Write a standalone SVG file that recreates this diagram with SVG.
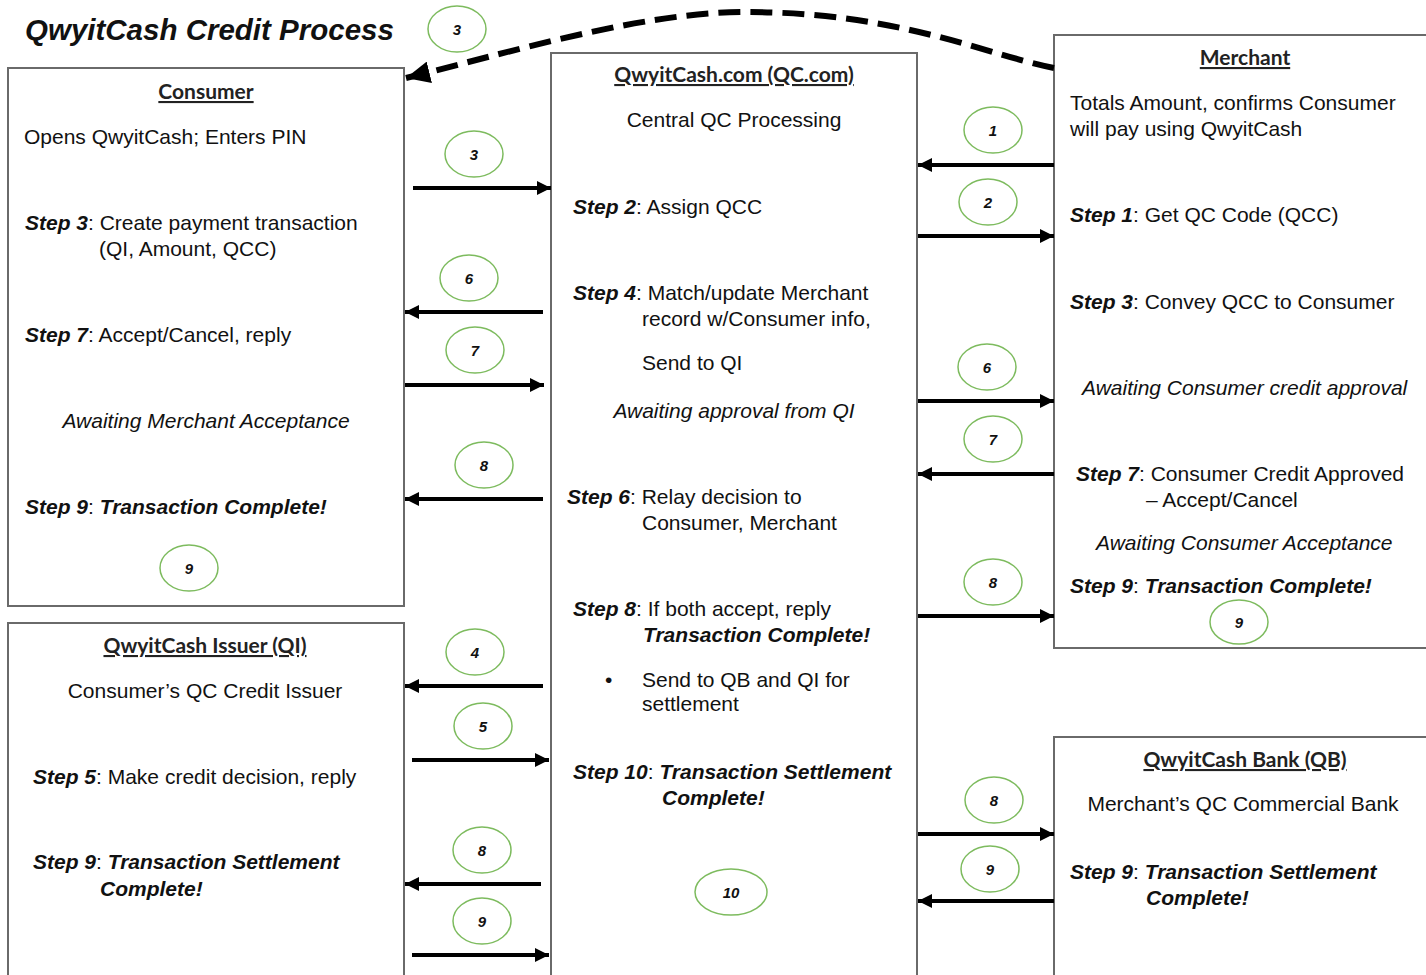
<svg xmlns="http://www.w3.org/2000/svg" width="1426" height="975" viewBox="0 0 1426 975">
<defs>
<style>
.box{fill:#fff;stroke:#6a6a6a;stroke-width:2}
.t{font-family:"Liberation Sans",Arial,sans-serif;font-size:21px;fill:#111}
.c{text-anchor:middle}
.i{font-style:italic}
.b{font-weight:bold;font-style:italic}
.h{font-family:Lato,"Open Sans",sans-serif;font-weight:bold;font-size:21px;fill:#222;text-anchor:middle;text-decoration:underline}
.title{font-family:"Liberation Sans",Arial,sans-serif;font-size:29.5px;font-weight:bold;font-style:italic;fill:#111}
.ov{fill:#fff;stroke:#7dbb5e;stroke-width:1.5}
.n{font-family:"Liberation Sans",Arial,sans-serif;font-size:15px;font-weight:bold;font-style:italic;fill:#111;text-anchor:middle}
.a{stroke:#000;stroke-width:4;fill:none;marker-end:url(#ah)}
</style>
<marker id="ah" markerUnits="userSpaceOnUse" markerWidth="16" markerHeight="14" refX="14" refY="7" orient="auto">
<path d="M0,0 L14,7 L0,14 Z" fill="#000"/>
</marker>
<marker id="ahd" markerUnits="userSpaceOnUse" markerWidth="26" markerHeight="22" refX="24" refY="11" orient="auto">
<path d="M0,0 L24,11 L0,22 Z" fill="#000"/>
</marker>
</defs>
<rect width="1426" height="975" fill="#fff"/>
<text class="title" x="25" y="40">QwyitCash Credit Process</text>

<g id="consumer">
<rect class="box" x="8" y="68" width="396" height="538"/>
<text class="h" x="206" y="99">Consumer</text>
<text class="t" x="24" y="144">Opens QwyitCash; Enters PIN</text>
<text class="t" x="25" y="230"><tspan class="b">Step 3</tspan>: Create payment transaction</text>
<text class="t" x="99" y="256">(QI, Amount, QCC)</text>
<text class="t" x="25" y="342"><tspan class="b">Step 7</tspan>: Accept/Cancel, reply</text>
<text class="t c i" x="206" y="428">Awaiting Merchant Acceptance</text>
<text class="t" x="25" y="514"><tspan class="b">Step 9</tspan>:  <tspan class="b">Transaction Complete!</tspan></text>
<ellipse class="ov" cx="189" cy="568" rx="29" ry="23"/>
<text class="n" x="189" y="574">9</text>
</g>

<g id="issuer">
<rect class="box" x="8" y="623" width="396" height="370"/>
<text class="h" x="205" y="653">QwyitCash Issuer (QI)</text>
<text class="t c" x="205" y="698">Consumer’s QC Credit Issuer</text>
<text class="t" x="33" y="784"><tspan class="b">Step 5</tspan>: Make credit decision, reply</text>
<text class="t" x="33" y="869"><tspan class="b">Step 9</tspan>:  <tspan class="b">Transaction Settlement</tspan></text>
<text class="t b" x="100" y="896">Complete!</text>
</g>

<g id="qccom">
<rect class="box" x="551" y="53" width="366" height="940"/>
<text class="h" x="734" y="82">QwyitCash.com (QC.com)</text>
<text class="t c" x="734" y="127">Central QC Processing</text>
<text class="t" x="573" y="214"><tspan class="b">Step 2</tspan>: Assign QCC</text>
<text class="t" x="573" y="300"><tspan class="b">Step 4</tspan>: Match/update Merchant</text>
<text class="t" x="642" y="326">record w/Consumer info,</text>
<text class="t" x="642" y="370">Send to QI</text>
<text class="t c i" x="734" y="418">Awaiting approval from QI</text>
<text class="t" x="567" y="504"><tspan class="b">Step 6</tspan>: Relay decision to</text>
<text class="t" x="642" y="530">Consumer, Merchant</text>
<text class="t" x="573" y="616"><tspan class="b">Step 8</tspan>: If both accept, reply</text>
<text class="t b" x="643" y="642">Transaction Complete!</text>
<text class="t" x="605" y="687">•</text>
<text class="t" x="642" y="687">Send to QB and QI for</text>
<text class="t" x="642" y="711">settlement</text>
<text class="t" x="573" y="779"><tspan class="b">Step 10</tspan>: <tspan class="b">Transaction Settlement</tspan></text>
<text class="t b" x="662" y="805">Complete!</text>
<ellipse class="ov" cx="731" cy="892" rx="36" ry="23"/>
<text class="n" x="731" y="898">10</text>
</g>

<g id="merchant">
<rect class="box" x="1054" y="35" width="390" height="613"/>
<text class="h" x="1245" y="65">Merchant</text>
<text class="t" x="1070" y="110">Totals Amount, confirms Consumer</text>
<text class="t" x="1070" y="136">will pay using QwyitCash</text>
<text class="t" x="1070" y="222"><tspan class="b">Step 1</tspan>: Get QC Code (QCC)</text>
<text class="t" x="1070" y="309"><tspan class="b">Step 3</tspan>: Convey QCC to Consumer</text>
<text class="t i" x="1082" y="395">Awaiting Consumer credit approval</text>
<text class="t" x="1076" y="481"><tspan class="b">Step 7</tspan>: Consumer Credit Approved</text>
<text class="t" x="1146" y="507">– Accept/Cancel</text>
<text class="t i" x="1096" y="550">Awaiting Consumer Acceptance</text>
<text class="t" x="1070" y="593"><tspan class="b">Step 9</tspan>:  <tspan class="b">Transaction Complete!</tspan></text>
<ellipse class="ov" cx="1239" cy="622" rx="29" ry="22"/>
<text class="n" x="1239" y="628">9</text>
</g>

<g id="bank">
<rect class="box" x="1054" y="737" width="390" height="260"/>
<text class="h" x="1245" y="767">QwyitCash Bank (QB)</text>
<text class="t c" x="1243" y="811">Merchant’s QC Commercial Bank</text>
<text class="t" x="1070" y="879"><tspan class="b">Step 9</tspan>:  <tspan class="b">Transaction Settlement</tspan></text>
<text class="t b" x="1146" y="905">Complete!</text>
</g>

<g id="connectors">
<path d="M1054,68 C990,56 900,12 745,12 C640,12 500,55 406,78" fill="none" stroke="#000" stroke-width="6" stroke-dasharray="22,10" marker-end="url(#ahd)"/>
<line class="a" x1="413" y1="188" x2="551" y2="188"/>
<line class="a" x1="543" y1="312" x2="405" y2="312"/>
<line class="a" x1="405" y1="385" x2="544" y2="385"/>
<line class="a" x1="543" y1="499" x2="405" y2="499"/>
<line class="a" x1="543" y1="686" x2="405" y2="686"/>
<line class="a" x1="412" y1="760" x2="549" y2="760"/>
<line class="a" x1="541" y1="884" x2="405" y2="884"/>
<line class="a" x1="412" y1="955" x2="549" y2="955"/>
<line class="a" x1="1054" y1="165" x2="918" y2="165"/>
<line class="a" x1="918" y1="236" x2="1054" y2="236"/>
<line class="a" x1="918" y1="401" x2="1054" y2="401"/>
<line class="a" x1="1054" y1="474" x2="918" y2="474"/>
<line class="a" x1="918" y1="616" x2="1054" y2="616"/>
<line class="a" x1="918" y1="834" x2="1054" y2="834"/>
<line class="a" x1="1054" y1="901" x2="918" y2="901"/>
</g>

<g id="labels">
<ellipse class="ov" cx="457" cy="29" rx="29" ry="23"/><text class="n" x="457" y="35">3</text>
<ellipse class="ov" cx="474" cy="154" rx="29" ry="23"/><text class="n" x="474" y="160">3</text>
<ellipse class="ov" cx="469" cy="278" rx="29" ry="23"/><text class="n" x="469" y="284">6</text>
<ellipse class="ov" cx="475" cy="350" rx="29" ry="23"/><text class="n" x="475" y="356">7</text>
<ellipse class="ov" cx="484" cy="465" rx="29" ry="23"/><text class="n" x="484" y="471">8</text>
<ellipse class="ov" cx="475" cy="652" rx="29" ry="23"/><text class="n" x="475" y="658">4</text>
<ellipse class="ov" cx="483" cy="726" rx="29" ry="23"/><text class="n" x="483" y="732">5</text>
<ellipse class="ov" cx="482" cy="850" rx="29" ry="23"/><text class="n" x="482" y="856">8</text>
<ellipse class="ov" cx="482" cy="921" rx="29" ry="23"/><text class="n" x="482" y="927">9</text>
<ellipse class="ov" cx="993" cy="130" rx="29" ry="23"/><text class="n" x="993" y="136">1</text>
<ellipse class="ov" cx="988" cy="202" rx="29" ry="23"/><text class="n" x="988" y="208">2</text>
<ellipse class="ov" cx="987" cy="367" rx="29" ry="23"/><text class="n" x="987" y="373">6</text>
<ellipse class="ov" cx="993" cy="439" rx="29" ry="23"/><text class="n" x="993" y="445">7</text>
<ellipse class="ov" cx="993" cy="582" rx="29" ry="23"/><text class="n" x="993" y="588">8</text>
<ellipse class="ov" cx="994" cy="800" rx="29" ry="23"/><text class="n" x="994" y="806">8</text>
<ellipse class="ov" cx="990" cy="869" rx="29" ry="23"/><text class="n" x="990" y="875">9</text>
</g>
</svg>
